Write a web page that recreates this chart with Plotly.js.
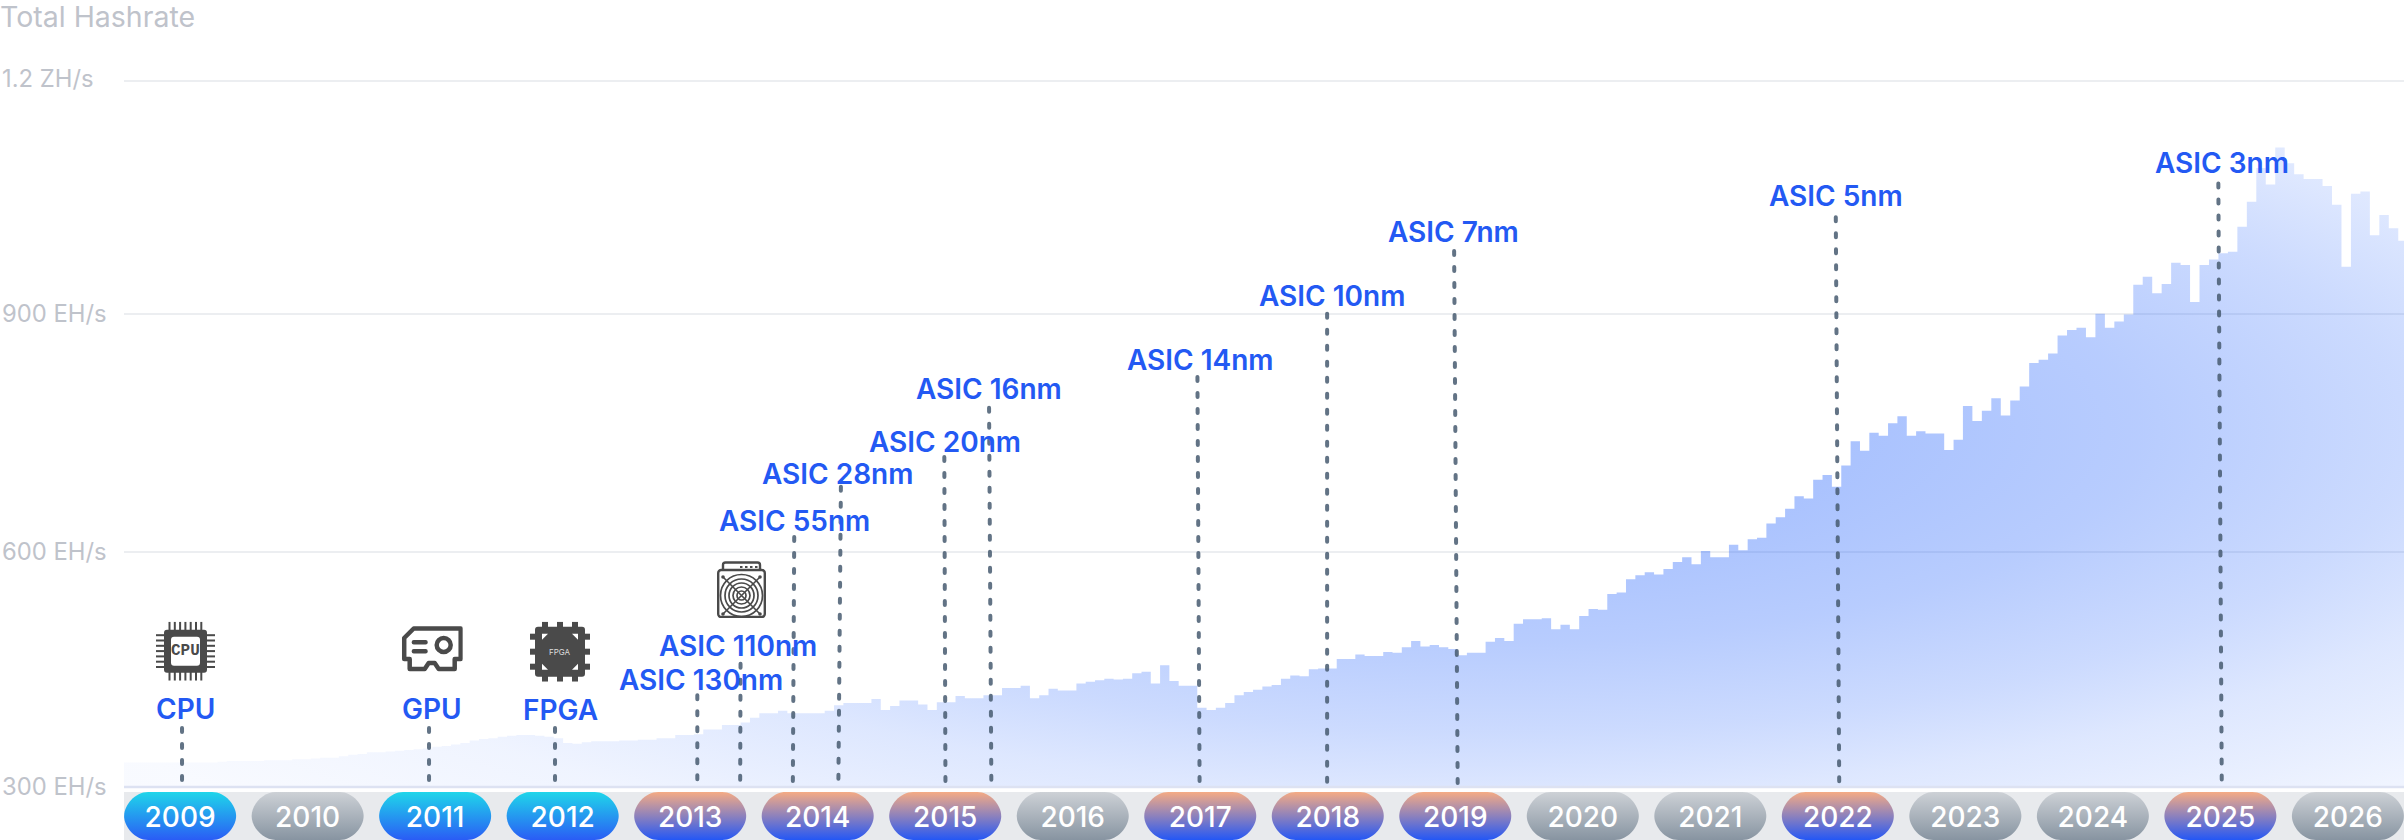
<!DOCTYPE html>
<html>
<head>
<meta charset="utf-8">
<title>Total Hashrate</title>
<script src="https://cdn.plot.ly/plotly-3.0.1.min.js"></script>
<style>
    html, body { margin: 0; padding: 0; background: #fff; }
</style>
</head>
<body>
<div id="chart"></div>
<script>
// hashrate per step, EH/s
const hashrate = [
    330, 330, 330, 330, 330, 330, 330, 330, 330, 330, 331, 332, 332, 332, 332, 333, 333, 333, 334, 334,
    335, 336, 336, 338, 340, 341, 343, 343, 344, 345, 346, 347, 348, 350, 351, 353, 355, 358, 360, 361,
    363, 364, 365, 365, 364, 363, 361, 355, 354, 356, 357, 357, 357, 358, 358, 359, 359, 361, 361, 365,
    365, 366, 372, 372, 378, 378, 381, 387, 393, 393, 396, 393, 393, 393, 393, 396, 403, 406, 406, 406,
    411, 397, 402, 409, 409, 404, 397, 407, 407, 415, 412, 412, 416, 416, 425, 425, 428, 412, 416, 424,
    422, 422, 431, 433, 435, 437, 436, 437, 444, 446, 431, 454, 434, 428, 428, 400, 397, 400, 406, 416,
    420, 423, 427, 429, 437, 441, 440, 449, 450, 450, 462, 462, 468, 466, 466, 471, 470, 477, 485, 478,
    480, 477, 475, 467, 470, 470, 484, 489, 485, 507, 513, 513, 514, 500, 506, 500, 517, 526, 525, 545,
    547, 564, 569, 573, 570, 577, 586, 592, 583, 600, 592, 592, 608, 601, 615, 617, 635, 643, 654, 670,
    667, 691, 697, 682, 709, 740, 728, 751, 747, 763, 772, 747, 753, 750, 750, 729, 742, 785, 766, 779,
    795, 773, 792, 810, 840, 844, 852, 875, 882, 885, 873, 903, 885, 893, 902, 940, 950, 929, 941, 968,
    965, 918, 965, 972, 980, 982, 1014, 1046, 1089, 1068, 1115, 1095, 1081, 1075, 1075, 1066, 1042, 963, 1056, 1059,
    1003, 1029, 1012, 996, 996
];

// steps are not quite even, these are the ones checked against the pills
const anchorSteps = [0, 90, 144, 197, 243];
const anchorYears = [2008.56, 2015.154, 2019.091, 2022.981, 2026.395];

const pillYears = [2009, 2010, 2011, 2012, 2013, 2014, 2015, 2016, 2017, 2018, 2019, 2020, 2021, 2022, 2023, 2024, 2025, 2026];
const pillKinds = ["chip", "idle", "chip", "chip", "asic", "asic", "asic", "idle", "asic", "asic", "asic", "idle", "idle", "asic", "idle", "idle", "asic", "idle"];

const tickValues = [300, 599, 903, 1200];
const tickLabels = ["300 EH/s", "600 EH/s", "900 EH/s", "1.2 ZH/s"];

const eventNames = ["CPU", "GPU", "FPGA", "ASIC 130nm", "ASIC 110nm", "ASIC 55nm", "ASIC 28nm", "ASIC 20nm", "ASIC 16nm", "ASIC 14nm", "ASIC 10nm", "ASIC 7nm", "ASIC 5nm", "ASIC 3nm"];
const eventYearTop = [2009.015, 2010.952, 2011.94, 2013.056, 2013.395, 2013.816, 2014.182, 2014.993, 2015.344, 2016.978, 2017.995, 2018.991, 2021.984, 2024.984];
const eventYearBase = [2009.015, 2010.952, 2011.94, 2013.056, 2013.392, 2013.805, 2014.162, 2015.002, 2015.362, 2016.995, 2017.995, 2019.019, 2022.011, 2025.011];
const eventLevel = [374, 374, 374, 416, 456, 618, 682, 720, 783, 822, 903, 983, 1026, 1069];

// label nudges in px, the labels were placed by hand in the original
const eventShiftX = [3, 3, 5, 4, -3, 0, -3, 1, 0, 3, 5, -1, 0, 4];
const eventShiftY = [19.5, 19.5, 18, 15, 18, 16, 13, 15.5, 18.5, 17, 18, 19, 21, 21];

const WIDTH = 2404;
const HEIGHT = 840;
const LEFT = 124;
const BOTTOM = 54;
const PLOT_W = WIDTH - LEFT;
const PLOT_H = HEIGHT - BOTTOM;
const ICON_COLOR = "#4a4a4a";

function stepYear(i) {
    for (let a = 1; a < anchorSteps.length; a++) {
        if (i <= anchorSteps[a] || a == anchorSteps.length - 1) {
            let t = (i - anchorSteps[a - 1]) / (anchorSteps[a] - anchorSteps[a - 1]);
            return anchorYears[a - 1] + t * (anchorYears[a] - anchorYears[a - 1]);
        }
    }
}

function paperX(px) { return (px - LEFT) / PLOT_W; }
function paperY(py) { return (PLOT_H - py) / PLOT_H; }
function svgUri(w, h, body) {
    let s = `<svg xmlns="http://www.w3.org/2000/svg" width="${w}" height="${h}" viewBox="0 0 ${w} ${h}">${body}</svg>`;
    return "data:image/svg+xml;charset=utf-8," + encodeURIComponent(s);
}

function cpuIcon() {
    let pins = "";
    for (let k = 0; k < 7; k++) {
        let p = 13.5 + k * 5.3;
        pins += `<rect x="${p - 1}" y="0" width="2" height="59" fill="${ICON_COLOR}"/>`;
        pins += `<rect x="0" y="${p - 1}" width="59" height="2" fill="${ICON_COLOR}"/>`;
    }
    return pins + `<rect x="8" y="8" width="43" height="43" rx="3" fill="${ICON_COLOR}"/>` +
        `<rect x="15" y="15" width="29" height="29" rx="3" fill="#fff"/>`;
}

function gpuIcon() {
    let c = ICON_COLOR;
    return `<path d="M12 2.5H59V33H53V43H37L33 37H27L23 43H8V33H2.5V12Z" fill="none" stroke="${c}" stroke-width="4.5" stroke-linejoin="round"/>` +
        `<circle cx="42" cy="19" r="7" fill="none" stroke="${c}" stroke-width="4.5"/>` +
        `<rect x="10" y="14" width="16" height="4.5" rx="2" fill="${c}"/>` +
        `<rect x="10" y="23" width="16" height="4.5" rx="2" fill="${c}"/>`;
}

function fpgaIcon() {
    let c = ICON_COLOR, pins = "";
    [15, 30, 45].forEach(p => {
        pins += `<rect x="${p - 3}" y="0" width="6" height="60" fill="${c}"/>`;
        pins += `<rect x="0" y="${p - 3}" width="60" height="6" fill="${c}"/>`;
    });
    let corners = [[9, 9, 1, 1], [51, 9, -1, 1], [9, 51, 1, -1], [51, 51, -1, -1]].map(([x, y, a, b]) =>
        `<path d="M${x + 3 * a} ${y + 3 * b}h${6 * a}l${-6 * a} ${6 * b}z" fill="#fff"/>`).join("");
    return pins + `<rect x="5" y="5" width="50" height="50" rx="3" fill="${c}"/>` + corners;
}

function asicIcon() {
    let c = ICON_COLOR, rings = "";
    [21, 16.5, 12.5, 8.5, 4.5].forEach(r => {
        rings += `<circle cx="24.5" cy="34.5" r="${r}" fill="none" stroke="${c}" stroke-width="1.7"/>`;
    });
    let dots = [[6, 16], [43, 16], [6, 53], [43, 53]].map(([x, y]) => `<circle cx="${x}" cy="${y}" r="1.8" fill="${c}"/>`).join("");
    return `<path d="M6 9V4Q6 1.5 8.5 1.5H40.5Q43 1.5 43 4V9" fill="none" stroke="${c}" stroke-width="2.4"/>` +
        `<rect x="1.2" y="9" width="46.6" height="47" rx="3" fill="none" stroke="${c}" stroke-width="2.4"/>` +
        `<path d="M6 16L43 53M43 16L6 53" stroke="${c}" stroke-width="1.6"/>` + rings + dots +
        `<rect x="23" y="5" width="2.5" height="2" fill="${c}"/><rect x="28" y="5" width="2.5" height="2" fill="${c}"/>` +
        `<rect x="33" y="5" width="2.5" height="2" fill="${c}"/><rect x="38" y="5" width="2.5" height="2" fill="${c}"/>`;
}

function iconImage(uri, x0, y0, x1, y1) {
    return {
        source: uri, xref: "paper", yref: "paper",
        x: paperX(x0), y: paperY(y0),
        sizex: (x1 - x0) / PLOT_W, sizey: (y1 - y0) / PLOT_H,
        xanchor: "left", yanchor: "top", sizing: "stretch", layer: "above"
    };
}

function pillPath(year) {
    // rounded pill in year units across, paper units down
    let hw = 56 / 127.5, top = paperY(792), bot = paperY(840), midY = (top + bot) / 2;
    let rx = 24 / 127.5, kx = rx * 0.45, ky = (top - bot) / 2 * 0.45;
    let l = year - hw, r = year + hw;
    return `M${l + rx} ${top}L${r - rx} ${top}C${r - kx} ${top} ${r} ${midY + ky} ${r} ${midY}` +
        `C${r} ${midY - ky} ${r - kx} ${bot} ${r - rx} ${bot}L${l + rx} ${bot}` +
        `C${l + kx} ${bot} ${l} ${midY - ky} ${l} ${midY}C${l} ${midY + ky} ${l + kx} ${top} ${l + rx} ${top}Z`;
}

function buildTraces() {
    let xs = hashrate.map((v, i) => stepYear(i));
    xs.push(stepYear(hashrate.length));
    let ys = hashrate.concat([hashrate[hashrate.length - 1]]);

    let traces = [{
        x: xs,
        y: ys,
        type: "scatter",
        mode: "lines",
        fill: "tozeroy",
        fillcolor: "rgba(40, 90, 245, 0.25)",
        line: { shape: "hv", width: 0, color: "rgba(0,0,0,0)" },
        hoverinfo: "none",
        showlegend: false
    }];

    for (let e in eventNames) {
        traces.push({
            x: [eventYearTop[e], eventYearBase[e]],
            y: [eventLevel[e], 300],
            type: "scatter",
            mode: "lines",
            line: { color: "rgba(71, 91, 112, 0.85)", width: 4, dash: "4px,12px" },
            hoverinfo: "none",
            showlegend: false
        });
    }
    return traces;
}

function buildAnnotations() {
    let notes = [];
    for (let t in tickLabels) {
        notes.push({
            text: tickLabels[t],
            xref: "paper", yref: "y",
            x: paperX(0), y: tickValues[t],
            xanchor: "left", yanchor: "middle",
            yshift: tickLabels[t] == "1.2 ZH/s" ? 3 : 0,
            showarrow: false,
            font: { family: "Inter", size: 23.8, color: "#bfc3cb" }
        });
    }
    for (let e in eventNames) {
        notes.push({
            text: eventNames[e],
            xref: "x", yref: "y",
            x: eventYearTop[e], y: eventLevel[e],
            xanchor: "center", yanchor: "middle",
            xshift: eventShiftX[e], yshift: eventShiftY[e],
            showarrow: false,
            font: { family: "Inter", size: 28, weight: 600, color: "#2359f3" }
        });
    }
    // the lettering inside the chip icons
    notes.push({
        text: "CPU", xref: "paper", yref: "paper", x: paperX(185.5), y: paperY(651),
        xanchor: "center", yanchor: "middle", showarrow: false,
        font: { family: "Liberation Mono", size: 16, weight: 700, color: ICON_COLOR }
    });
    notes.push({
        text: "FPGA", xref: "paper", yref: "paper", x: paperX(560), y: paperY(651.5),
        xanchor: "center", yanchor: "middle", showarrow: false,
        font: { family: "Inter", size: 8, color: "#dcdcdc" }
    });
    return notes;
}

function buildShapes() {
    let shapes = [{
        type: "rect", xref: "paper", yref: "paper", layer: "below",
        x0: 0, x1: 1, y0: paperY(792), y1: paperY(840),
        fillcolor: "#e8eaed", line: { width: 0 }
    }];
    for (let p in pillYears) {
        shapes.push({
            type: "path", xref: "x", yref: "paper", layer: "below",
            path: pillPath(pillYears[p]),
            fillcolor: "#8a97a4", line: { width: 0 },
            name: pillKinds[p]
        });
    }
    // the 300 gridline sits on the plot edge and plotly drops it
    shapes.push({
        type: "line", xref: "paper", yref: "paper", layer: "above",
        x0: 0, x1: 1, y0: paperY(787), y1: paperY(787),
        line: { color: "#dde2f2", width: 2.5 }
    });
    return shapes;
}

function addGradient(defs, id, stops) {
    let g = document.createElementNS("http://www.w3.org/2000/svg", "linearGradient");
    g.setAttribute("id", id);
    g.setAttribute("x1", "0"); g.setAttribute("y1", "0");
    g.setAttribute("x2", "0"); g.setAttribute("y2", "1");
    stops.forEach(([o, c]) => {
        let s = document.createElementNS("http://www.w3.org/2000/svg", "stop");
        s.setAttribute("offset", o);
        s.setAttribute("stop-color", c);
        g.appendChild(s);
    });
    defs.appendChild(g);
}

function paintGradients(gd) {
    const NS = "http://www.w3.org/2000/svg";
    let svg = gd.querySelector(".main-svg");
    let defs = svg.querySelector("defs");

    // plotly only does centred fills, the area glow sits off centre
    let glow = document.createElementNS(NS, "radialGradient");
    glow.setAttribute("id", "areaGlow");
    glow.setAttribute("gradientUnits", "userSpaceOnUse");
    glow.setAttribute("cx", 0); glow.setAttribute("cy", 0); glow.setAttribute("r", 1);
    glow.setAttribute("gradientTransform", "translate(1376 430) scale(1690 560)");
    [[0, 0.40], [0.18, 0.39], [0.38, 0.32], [0.54, 0.23], [0.65, 0.15], [0.82, 0.07], [1, 0.03]].forEach(([o, a]) => {
        let s = document.createElementNS(NS, "stop");
        s.setAttribute("offset", o);
        s.setAttribute("stop-color", "rgb(32, 96, 252)");
        s.setAttribute("stop-opacity", a);
        glow.appendChild(s);
    });
    defs.appendChild(glow);

    addGradient(defs, "pill-chip", [[0, "#1fd6ea"], [1, "#2a5cf5"]]);
    addGradient(defs, "pill-idle", [[0, "#cdd1d6"], [1, "#8794a1"]]);
    addGradient(defs, "pill-asic", [[0, "#f5ab84"], [1, "#2457f5"]]);

    let fill = gd.querySelector(".js-fill");
    if (fill) {
        fill.style.fill = "url(#areaGlow)";
        fill.style.fillOpacity = 1;
    }

    let pills = gd.querySelectorAll(".layer-below .shapelayer path");
    pills.forEach((el, i) => {
        // first shape is the grey strip
        if (i == 0) return;
        el.style.fill = `url(#pill-${pillKinds[i - 1]})`;
    });

    gd.querySelectorAll(".scatterlayer .js-line").forEach(el => {
        el.style.strokeLinecap = "round";
    });
}

const layout = {
    width: WIDTH,
    height: HEIGHT,
    margin: { l: LEFT, r: 0, t: 0, b: BOTTOM, pad: 0 },
    plot_bgcolor: "#fff",
    paper_bgcolor: "#fff",
    showlegend: false,
    hovermode: false,
    font: { family: "Inter" },
    title: {
        text: "Total Hashrate",
        xref: "container", yref: "container",
        x: 0, y: 1 - 17 / HEIGHT,
        xanchor: "left", yanchor: "middle",
        font: { family: "Inter", size: 28.5, color: "#bfc3cb" }
    },
    xaxis: {
        type: "linear",
        range: [2008.56, 2026.44],
        showgrid: false,
        zeroline: false,
        showline: false,
        ticks: "",
        tickvals: pillYears,
        ticktext: pillYears.map(String),
        ticklabelstandoff: 12,
        tickfont: { family: "Inter", size: 28, weight: 500, color: "#fff" },
        fixedrange: true
    },
    yaxis: {
        type: "linear",
        range: [300, 1303.4],
        tickvals: tickValues,
        showticklabels: false,
        showgrid: true,
        gridcolor: "#eceef1",
        gridwidth: 2,
        zeroline: false,
        showline: false,
        ticks: "",
        fixedrange: true
    },
    shapes: buildShapes(),
    annotations: buildAnnotations(),
    images: [
        iconImage(svgUri(59, 59, cpuIcon()), 156, 621.7, 215, 680.7),
        iconImage(svgUri(61, 46, gpuIcon()), 401.7, 626, 462.7, 672),
        iconImage(svgUri(60, 60, fpgaIcon()), 530, 621.7, 590, 681.7),
        iconImage(svgUri(49, 57, asicIcon()), 717, 561, 766, 618)
    ]
};

Plotly.newPlot("chart", buildTraces(), layout, { displayModeBar: false, staticPlot: true }).then(paintGradients);
</script>
</body>
</html>
